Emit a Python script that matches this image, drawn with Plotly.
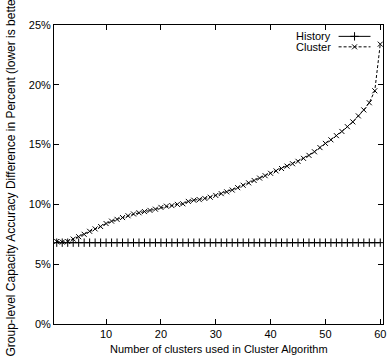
import plotly.graph_objects as go

# Number of clusters (x) and accuracy differences in percent
clusters = list(range(1, 61))
history_pct = [6.8] * 60
cluster_pct = [
    6.9, 6.85, 6.9, 7.1, 7.3, 7.5, 7.75, 7.95, 8.15, 8.4,
    8.6, 8.75, 8.9, 9.05, 9.2, 9.3, 9.4, 9.5, 9.6, 9.75,
    9.85, 9.9, 10.0, 10.05, 10.25, 10.35, 10.4, 10.5, 10.6, 10.75,
    10.9, 11.05, 11.2, 11.4, 11.6, 11.8, 12.0, 12.2, 12.4, 12.6,
    12.8, 13.0, 13.2, 13.4, 13.6, 13.85, 14.1, 14.4, 14.75, 15.1,
    15.4, 15.75, 16.1, 16.5, 16.9, 17.4, 17.9, 18.5, 19.5, 23.4,
]
series_names = ["History", "Cluster"]
x_ticks = [10, 20, 30, 40, 50, 60]
y_ticks = [0, 5, 10, 15, 20, 25]
y_tick_text = ["0%", "5%", "10%", "15%", "20%", "25%"]

FONT = "Liberation Sans, Arial, sans-serif"

fig = go.Figure()
fig.add_trace(go.Scatter(
    x=clusters, y=history_pct, mode="lines+markers", name=series_names[0],
    line=dict(color="black", width=1),
    marker=dict(symbol="cross-thin", size=6, line=dict(color="black", width=1)),
    showlegend=False,
))
fig.add_trace(go.Scatter(
    x=clusters, y=cluster_pct, mode="lines+markers", name=series_names[1],
    line=dict(color="black", width=1, dash="3px,2px"),
    marker=dict(symbol="x-thin", size=5, line=dict(color="black", width=1)),
    showlegend=False,
))

# Key in the upper-right corner: label text followed by a line sample
key_rows = [(0.962, "solid", "cross-thin", 6), (0.927, "3px,2px", "x-thin", 5)]
for name, (ky, dash, sym, sz) in zip(series_names, key_rows):
    fig.add_trace(go.Scatter(
        x=[0.865, 0.962], y=[ky, ky], xaxis="x2", yaxis="y2", mode="lines",
        line=dict(color="black", width=1, dash=dash), showlegend=False, hoverinfo="skip",
    ))
    fig.add_trace(go.Scatter(
        x=[0.9135], y=[ky], xaxis="x2", yaxis="y2", mode="markers",
        marker=dict(symbol=sym, size=sz, line=dict(color="black", width=1)),
        showlegend=False, hoverinfo="skip",
    ))
    fig.add_annotation(
        x=0.848, y=ky, xref="x2", yref="y2", text=name, showarrow=False,
        xanchor="right", yanchor="middle", font=dict(family=FONT, size=11, color="black"),
    )

axis_common = dict(
    showline=True, linecolor="black", linewidth=1, mirror="ticks",
    ticks="inside", ticklen=5, tickcolor="black", tickwidth=1,
    showgrid=False, zeroline=False,
    tickfont=dict(family=FONT, size=11, color="black"),
)

fig.update_layout(
    width=391, height=356,
    margin=dict(l=54, r=5, t=25, b=32),
    paper_bgcolor="white", plot_bgcolor="white",
    xaxis=dict(range=[0.5, 60.5], tickvals=x_ticks, **axis_common),
    yaxis=dict(range=[0, 25], tickvals=y_ticks, ticktext=y_tick_text, **axis_common),
    xaxis2=dict(range=[0, 1], overlaying="x", visible=False, fixedrange=True),
    yaxis2=dict(range=[0, 1], overlaying="y", visible=False, fixedrange=True),
    showlegend=False,
)

fig.add_annotation(
    x=0.5, y=0, xref="paper", yref="paper", yanchor="top", yshift=-17,
    text="Number of clusters used in Cluster Algorithm", showarrow=False,
    font=dict(family=FONT, size=11, color="black"),
)

fig.add_annotation(
    x=0, y=0.5, xref="paper", yref="paper", xshift=-44,
    text="Group-level Capacity Accuracy Difference in Percent (lower is better)",
    textangle=-90, showarrow=False, xanchor="center", yanchor="middle",
    font=dict(family=FONT, size=12, color="black"),
)

fig.write_html("out.html")
